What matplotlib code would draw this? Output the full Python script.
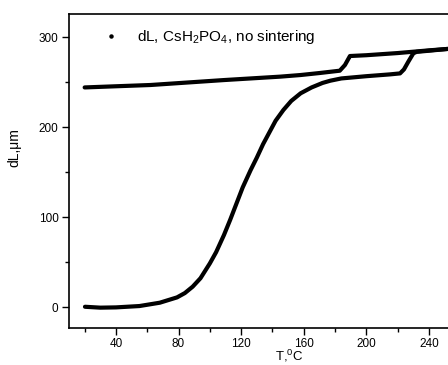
import matplotlib
matplotlib.use("Agg")
import matplotlib.pyplot as plt
from matplotlib.lines import Line2D
from matplotlib.ticker import MultipleLocator

plt.rcParams['font.family'] = ['Liberation Sans', 'DejaVu Sans']
plt.rcParams['mathtext.fontset'] = 'custom'
plt.rcParams['mathtext.rm'] = 'Liberation Sans'
plt.rcParams['mathtext.default'] = 'regular'

# Heating branch (T in °C, dL in µm)
heat_T = [20.2, 30, 40, 55, 68, 79, 84, 89, 94, 100, 104, 109, 113, 117, 121, 126,
          130, 134, 138, 142, 147, 152, 158, 165, 172, 177, 184, 200, 215, 221.5,
          224, 226.8, 230, 232, 240, 252]
heat_dL = [0.3, -0.7, -0.4, 1.1, 4.8, 10.7, 15.5, 22.6, 32, 48.5, 61, 80, 97, 115,
           133, 152, 166, 181, 194, 207, 219, 229, 237.5, 244, 249, 251.5, 254,
           256.5, 258.5, 259.6, 264, 272.6, 281.9, 283.5, 284.8, 286.8]

# Cooling branch
cool_T = [252, 240, 220, 200, 190.6, 189.5, 186.3, 183, 170, 158, 145, 109, 62, 40, 20]
cool_dL = [286.8, 285.2, 282.2, 279.8, 279, 278.9, 268.9, 262.6, 260, 257.8, 256,
           252.2, 246.7, 245.3, 244]

legend_label = "dL, CsH$_2$PO$_4$, no sintering"
xticks = [40, 80, 120, 160, 200, 240]
yticks = [0, 100, 200, 300]

W, H = 448, 365
fig = plt.figure(figsize=(W / 100, H / 100), dpi=100)
left, right, top, bottom = 69, 511, 14, 328
ax = fig.add_axes([left / W, (H - bottom) / H, (right - left) / W, (bottom - top) / H])

ax.plot(heat_T, heat_dL, color='black', lw=3.0, solid_capstyle='round', solid_joinstyle='round')
ax.plot(cool_T, cool_dL, color='black', lw=3.0, solid_capstyle='round', solid_joinstyle='round')

ax.set_xlim(10, 292.4)
ax.set_ylim(-23.3, 325.6)
ax.set_xticks(xticks)
ax.set_yticks(yticks)
ax.xaxis.set_minor_locator(MultipleLocator(20))
ax.yaxis.set_minor_locator(MultipleLocator(50))
ax.tick_params(which='major', direction='out', length=5, width=1, labelsize=8.5, colors='black', pad=2.5)
ax.tick_params(which='minor', direction='out', length=3, width=1)
for s in ax.spines.values():
    s.set_linewidth(1.2)

fig.text(14 / W, 1 - 148 / H, "dL,\u03bcm", rotation=90, ha='center', va='center', fontsize=10)
fig.text(289 / W, 1 - 356 / H, "T,$^0$C", ha='center', va='center', fontsize=9.5)

handle = Line2D([], [], color='black', marker='o', markersize=2.2, linestyle='none')
ax.legend([handle], [legend_label], loc='center left', frameon=False,
          bbox_to_anchor=(103 / W, 1 - 37 / H), bbox_transform=fig.transFigure,
          fontsize=11, handlelength=1.0, handletextpad=1.2, borderpad=0, borderaxespad=0)

fig.savefig("out.png", dpi=100)
